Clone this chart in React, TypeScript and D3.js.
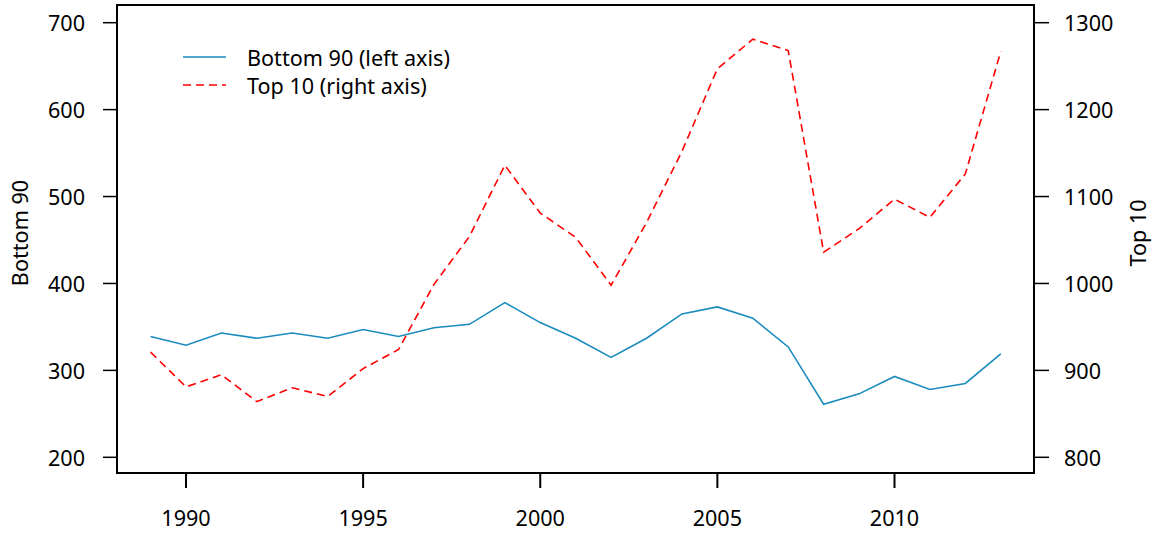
import React from 'react';
import * as d3 from 'd3';

const years = [1989, 1990, 1991, 1992, 1993, 1994, 1995, 1996, 1997, 1998, 1999, 2000, 2001,
  2002, 2003, 2004, 2005, 2006, 2007, 2008, 2009, 2010, 2011, 2012, 2013];
const bottom90 = [339, 329, 343, 337, 343, 337, 347, 339, 349, 353, 378, 355, 337,
  315, 337, 365, 373, 360, 327, 261, 273, 293, 278, 285, 319];
const top10 = [921, 881, 895, 864, 880, 870, 902, 924, 999, 1054, 1136, 1081, 1053,
  998, 1070, 1152, 1247, 1281, 1268, 1036, 1063, 1097, 1076, 1126, 1267];
const xTicks = [1990, 1995, 2000, 2005, 2010];
const leftTicks = [200, 300, 400, 500, 600, 700];
const rightTicks = [800, 900, 1000, 1100, 1200, 1300];
const legendItems = ['Bottom 90 (left axis)', 'Top 10 (right axis)'];

const W = 1157;
const H = 536;
const m = { left: 117, right: 1034, top: 5, bottom: 473 };
const font = '"Noto Sans", "Open Sans", sans-serif';
const blue = '#1a8bbd';
const red = '#ff0000';

export default function App() {
  const x = d3.scaleLinear().domain([1990, 2010]).range([186, 894.5]);
  const yL = d3.scaleLinear().domain([200, 700]).range([457.3, 22.7]);
  const yR = d3.scaleLinear().domain([800, 1300]).range([457.3, 22.7]);

  const lineL = d3.line<number>().x((d, i) => x(years[i])).y((d) => yL(d));
  const lineR = d3.line<number>().x((d, i) => x(years[i])).y((d) => yR(d));

  const midY = (m.top + m.bottom) / 2;

  return (
    <svg width={W} height={H} style={{ position: 'absolute', left: 0, top: 0, background: '#fff' }}
      fontFamily={font} fontSize={21.6}>
      <rect x={m.left} y={m.top} width={m.right - m.left} height={m.bottom - m.top}
        fill="none" stroke="#000" strokeWidth={2} />
      {xTicks.map((t) => (
        <g key={'x' + t}>
          <line x1={x(t)} x2={x(t)} y1={m.bottom} y2={m.bottom + 15} stroke="#000" strokeWidth={2} />
          <text x={x(t)} y={526} textAnchor="middle">{t}</text>
        </g>
      ))}
      {leftTicks.map((t) => (
        <g key={'l' + t}>
          <line x1={m.left - 14} x2={m.left} y1={yL(t)} y2={yL(t)} stroke="#000" strokeWidth={1.5} />
          <text x={85} y={yL(t)} textAnchor="end" dominantBaseline="central">{t}</text>
        </g>
      ))}
      {rightTicks.map((t) => (
        <g key={'r' + t}>
          <line x1={m.right} x2={m.right + 15} y1={yR(t)} y2={yR(t)} stroke="#000" strokeWidth={1.5} />
          <text x={1064} y={yR(t)} textAnchor="start" dominantBaseline="central">{t}</text>
        </g>
      ))}
      <text transform={`translate(19,${midY - 6}) rotate(-90)`} textAnchor="middle"
        dominantBaseline="central">Bottom 90</text>
      <text transform={`translate(1137,${midY - 6}) rotate(-90)`} textAnchor="middle"
        dominantBaseline="central">Top 10</text>
      <path d={lineL(bottom90) || ''} fill="none" stroke={blue} strokeWidth={1.6} />
      <path d={lineR(top10) || ''} fill="none" stroke={red} strokeWidth={1.6} strokeDasharray="8,5" />
      {legendItems.map((label, i) => (
        <g key={label} transform={`translate(0,${57 + i * 28})`}>
          <line x1={183} x2={226} y1={0} y2={0} stroke={i === 0 ? blue : red} strokeWidth={1.6}
            strokeDasharray={i === 0 ? undefined : '8,5'} />
          <text x={247} y={0} dominantBaseline="central">{label}</text>
        </g>
      ))}
    </svg>
  );
}
